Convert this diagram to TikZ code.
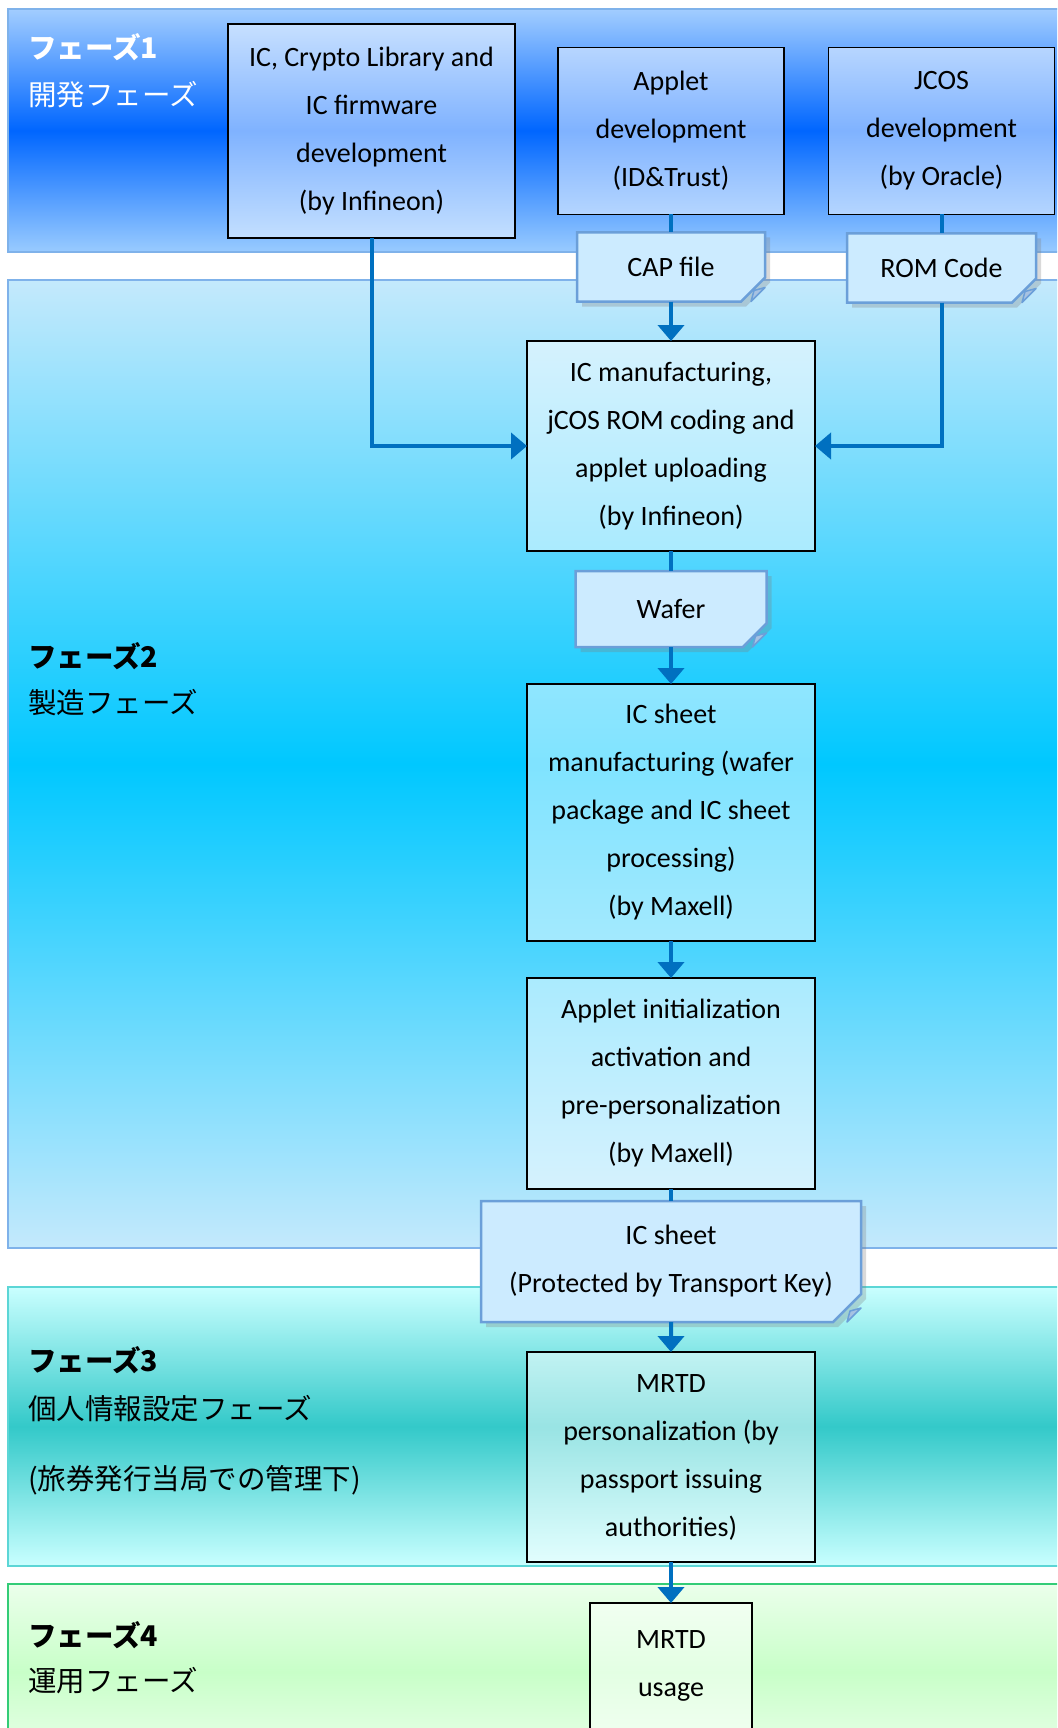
\documentclass[tikz,border=0pt]{standalone}
\usepackage{fontspec}
\setmainfont{Carlito}
\newfontfamily\jpfont{Noto Sans CJK JP}
\usetikzlibrary{positioning, calc, shapes.misc, shadows, arrows.meta}

\definecolor{flowblue}{HTML}{0070C0}
\definecolor{noteline}{HTML}{6B9FD9}
\definecolor{notefill}{HTML}{CCEBFF}
\definecolor{notefold}{HTML}{A7C2E2}
\definecolor{bandline}{HTML}{7FB2EA}
\definecolor{p1top}{HTML}{A2CDFF}
\definecolor{p1mid}{HTML}{0066FF}
\definecolor{p1bot}{HTML}{99CBFF}
\definecolor{p2top}{HTML}{C4E9FC}
\definecolor{p2mid}{HTML}{00C8FF}
\definecolor{p2bot}{HTML}{C4E9FC}
\definecolor{p3line}{HTML}{5CD6D6}
\definecolor{p3top}{HTML}{C9FFFF}
\definecolor{p3mid}{HTML}{33C9C9}
\definecolor{p3bot}{HTML}{C9FFFF}
\definecolor{p4line}{HTML}{33CC77}
\definecolor{p4top}{HTML}{EBFFEB}
\definecolor{p4mid}{HTML}{C8FFC8}
\definecolor{p4bot}{HTML}{EBFFEB}

\begin{document}
\begin{tikzpicture}[
    x=1pt, y=1pt,
    font=\fontsize{28}{48}\selectfont,
    band/.style={line width=1.5pt},
    phase/.style={anchor=west, inner sep=0pt, font=\jpfont\fontsize{28.5}{32}\selectfont},
    phasetitle/.style={phase, font=\jpfont\bfseries\fontsize{28.5}{32}\selectfont},
    stepbox/.style={draw, line width=1.2pt, fill=white, fill opacity=0.5, text opacity=1,
        align=center, inner sep=0pt, outer sep=0pt, minimum width=288pt},
    note/.style={chamfered rectangle, chamfered rectangle corners=south east,
        chamfered rectangle sep=14pt, draw=noteline, line width=2.5pt, fill=notefill,
        align=center, inner sep=0pt, outer sep=0pt,
        drop shadow={shadow xshift=5pt, shadow yshift=-5pt, opacity=0.3}},
    fold/.style={draw=noteline, line width=1.5pt, fill=notefold, line join=round},
    link/.style={draw=flowblue, line width=4pt},
    flow/.style={link, -{Triangle[width=26pt, length=16pt]}}
]
\useasboundingbox (0,0) rectangle (1057,-1728);
\clip (0,0) rectangle (1057,-1728);

% Phase bands
\draw[band, draw=bandline, top color=p1top, bottom color=p1bot, middle color=p1mid] (8,-9) rectangle (1080,-252);
\draw[band, draw=bandline, top color=p2top, bottom color=p2bot, middle color=p2mid] (8,-280) rectangle (1080,-1248);
\draw[band, draw=p3line, top color=p3top, bottom color=p3bot, middle color=p3mid] (8,-1287) rectangle (1080,-1566);
\draw[band, draw=p4line, top color=p4top, bottom color=p4bot, middle color=p4mid] (8,-1584) rectangle (1080,-1760);

% Phase labels
\node[phasetitle, text=white] (p1title) at (28,-47) {フェーズ1};
\node[phase, text=white] (p1name) at (28,-95) {開発フェーズ};
\node[phasetitle] (p2title) at (28,-656) {フェーズ2};
\node[phase] (p2name) at (28,-703) {製造フェーズ};
\node[phasetitle] (p3title) at (28,-1360) {フェーズ3};
\node[phase] (p3name) at (28,-1409) {個人情報設定フェーズ};
\node[phase] (p3note) at (28,-1480) {(旅券発行当局での管理下)};
\node[phasetitle] (p4title) at (28,-1635) {フェーズ4};
\node[phase] (p4name) at (28,-1681) {運用フェーズ};

% Development
\node[stepbox, minimum width=287pt, minimum height=214pt] (icdev) at (371.5,-131)
    {IC, Crypto Library and\\IC firmware\\development\\(by Infineon)};
\node[stepbox, minimum width=226pt, minimum height=167pt] (applet) at (671,-131)
    {Applet\\development\\(ID\&Trust)};
\node[stepbox, minimum width=226pt, minimum height=167pt] (jcos) at (941.5,-131)
    {JCOS\\development\\(by Oracle)};
\node[note, minimum width=188pt, minimum height=69pt] (cap) at (671,-267) {CAP file};
\node[note, minimum width=189pt, minimum height=69pt] (rom) at (941.5,-268) {ROM Code};

% Manufacturing
\node[stepbox, minimum height=210pt, below=39.5pt of cap] (manuf)
    {IC manufacturing,\\jCOS ROM coding and\\applet uploading\\(by Infineon)};
\node[note, minimum width=191pt, minimum height=76pt, below=20pt of manuf] (wafer) {Wafer};
\node[stepbox, minimum height=257pt, below=37pt of wafer] (sheetmf)
    {IC sheet\\manufacturing (wafer\\package and IC sheet\\processing)\\(by Maxell)};
\node[stepbox, minimum height=211pt, below=37pt of sheetmf] (init)
    {Applet initialization\\activation and\\pre-personalization\\(by Maxell)};
\node[note, minimum width=380pt, minimum height=121pt, below=12pt of init] (keysheet)
    {IC sheet\\(Protected by Transport Key)};

% Personalization and usage
\node[stepbox, minimum height=210pt, below=30pt of keysheet] (perso)
    {MRTD\\personalization (by\\passport issuing\\authorities)};
\node[stepbox, minimum width=162pt, inner ysep=28pt, text depth=100pt, below=41pt of perso] (usage)
    {MRTD\\usage};

% Folded corners
\foreach \n in {cap,rom,wafer,keysheet}
    \filldraw[fold] ($(\n.east |- \n.south)+(-14,0)$) -- ($(\n.east |- \n.south)+(0,14)$)
        -- ($(\n.east |- \n.south)+(-11,11)$) -- cycle;

% Connectors
\draw[link] (applet) -- (cap);
\draw[link] (jcos) -- (rom);
\draw[flow] (cap) -- (manuf);
\draw[flow] (icdev) |- (manuf);
\draw[flow] (rom) |- (manuf);
\draw[link] (manuf) -- (wafer);
\draw[flow] (wafer) -- (sheetmf);
\draw[flow] (sheetmf) -- (init);
\draw[link] (init) -- (keysheet);
\draw[flow] (keysheet) -- (perso);
\draw[flow] (perso) -- (usage);

\end{tikzpicture}
\end{document}
